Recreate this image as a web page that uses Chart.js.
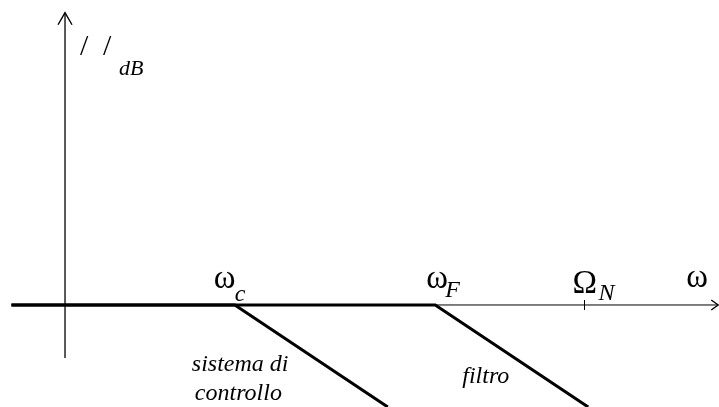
<!DOCTYPE html>
<html>
<head>
<meta charset="utf-8">
<script src="https://cdn.jsdelivr.net/npm/chart.js@4"></script>
<style>
  html, body { margin: 0; padding: 0; background: #fff; }
  #bode { display: block; }
</style>
</head>
<body>
<canvas id="bode" width="719" height="407"></canvas>
<script>
// x in decades from the vertical axis, y in dB
const breakC = 1.11;   // omega_c
const breakF = 2.42;   // omega_F
const nyquist = 3.39;  // Omega_N

const controlX = [-0.35, breakC, breakC + 1];
const controlDb = [0, 0, -20];
const filterX = [-0.35, breakF, breakF + 1];
const filterDb = [0, 0, -20];

const axisX = [-0.35, 4.27];
const axisYdB = [-10.4, 57.3];

const caseLabels = ['sistema di', 'controllo', 'filtro'];

const toPoints = (xs, ys) => xs.map((x, i) => ({ x, y: ys[i] }));

const serif = '"Liberation Serif", "DejaVu Serif", serif';

const annotations = {
  id: 'annotations',
  afterDatasetsDraw(chart) {
    const { ctx, scales: { x, y } } = chart;
    const y0 = y.getPixelForValue(0);
    const ax = x.getPixelForValue(0);

    ctx.save();
    ctx.strokeStyle = '#000';
    ctx.fillStyle = '#000';
    ctx.lineWidth = 1.4;

    // arrow heads
    const top = y.getPixelForValue(axisYdB[1]);
    ctx.beginPath();
    ctx.moveTo(ax - 7, top + 12);
    ctx.lineTo(ax, top);
    ctx.lineTo(ax + 7, top + 12);
    ctx.stroke();

    const right = x.getPixelForValue(axisX[1]);
    ctx.beginPath();
    ctx.moveTo(right - 7, y0 - 5);
    ctx.lineTo(right, y0);
    ctx.lineTo(right - 7, y0 + 5);
    ctx.stroke();

    // tick at Omega_N
    const xn = Math.round(x.getPixelForValue(nyquist)) + 0.5;
    ctx.lineWidth = 1;
    ctx.beginPath();
    ctx.moveTo(xn, y0 - 5);
    ctx.lineTo(xn, y0 + 5);
    ctx.stroke();

    const text = (s, px, py, size, italic) => {
      ctx.font = (italic ? 'italic ' : '') + size + 'px ' + serif;
      ctx.fillText(s, px, py);
    };
    ctx.textBaseline = 'alphabetic';
    ctx.textAlign = 'left';

    const xc = x.getPixelForValue(breakC);
    text('\u03c9', xc - 21, y0 - 17, 33, false);
    text('c', xc, y0 - 4, 24, true);

    const xf = x.getPixelForValue(breakF);
    text('\u03c9', xf - 9, y0 - 17, 33, false);
    text('F', xf + 10, y0 - 8, 24, true);

    text('\u03a9', xn - 12, y0 - 12, 33, false);
    text('N', xn + 14, y0 - 5, 24, true);

    text('\u03c9', right - 32, y0 - 18, 33, false);

    // |L|dB with the L lost, as in the original
    text('/', ax + 15, 55, 30, false);
    text('/', ax + 38, 55, 30, false);
    text('dB', ax + 54, 75, 22, true);

    text(caseLabels[0], xc - 43, y0 + 66, 24, true);
    text(caseLabels[1], xc - 40, y0 + 95, 24, true);
    text(caseLabels[2], xf + 27, y0 + 78, 24, true);

    ctx.restore();
  },
};

new Chart(document.getElementById('bode').getContext('2d'), {
  type: 'scatter',
  data: {
    datasets: [
      {
        data: toPoints(axisX, [0, 0]),
        showLine: true,
        borderColor: '#000',
        borderWidth: 1,
        pointRadius: 0,
      },
      {
        data: toPoints([0, 0], axisYdB),
        showLine: true,
        borderColor: '#000',
        borderWidth: 1.3,
        pointRadius: 0,
      },
      {
        label: 'sistema di controllo',
        data: toPoints(controlX, controlDb),
        showLine: true,
        borderColor: '#000',
        borderWidth: 3,
        pointRadius: 0,
      },
      {
        label: 'filtro',
        data: toPoints(filterX, filterDb),
        showLine: true,
        borderColor: '#000',
        borderWidth: 3,
        pointRadius: 0,
      },
    ],
  },
  options: {
    responsive: false,
    animation: false,
    layout: { padding: 0 },
    plugins: {
      legend: { display: false },
      tooltip: { enabled: false },
    },
    scales: {
      x: { type: 'linear', min: -0.425, max: 4.275, display: false },
      y: { type: 'linear', min: -20, max: 59.8, display: false },
    },
  },
  plugins: [annotations],
});
</script>
</body>
</html>
